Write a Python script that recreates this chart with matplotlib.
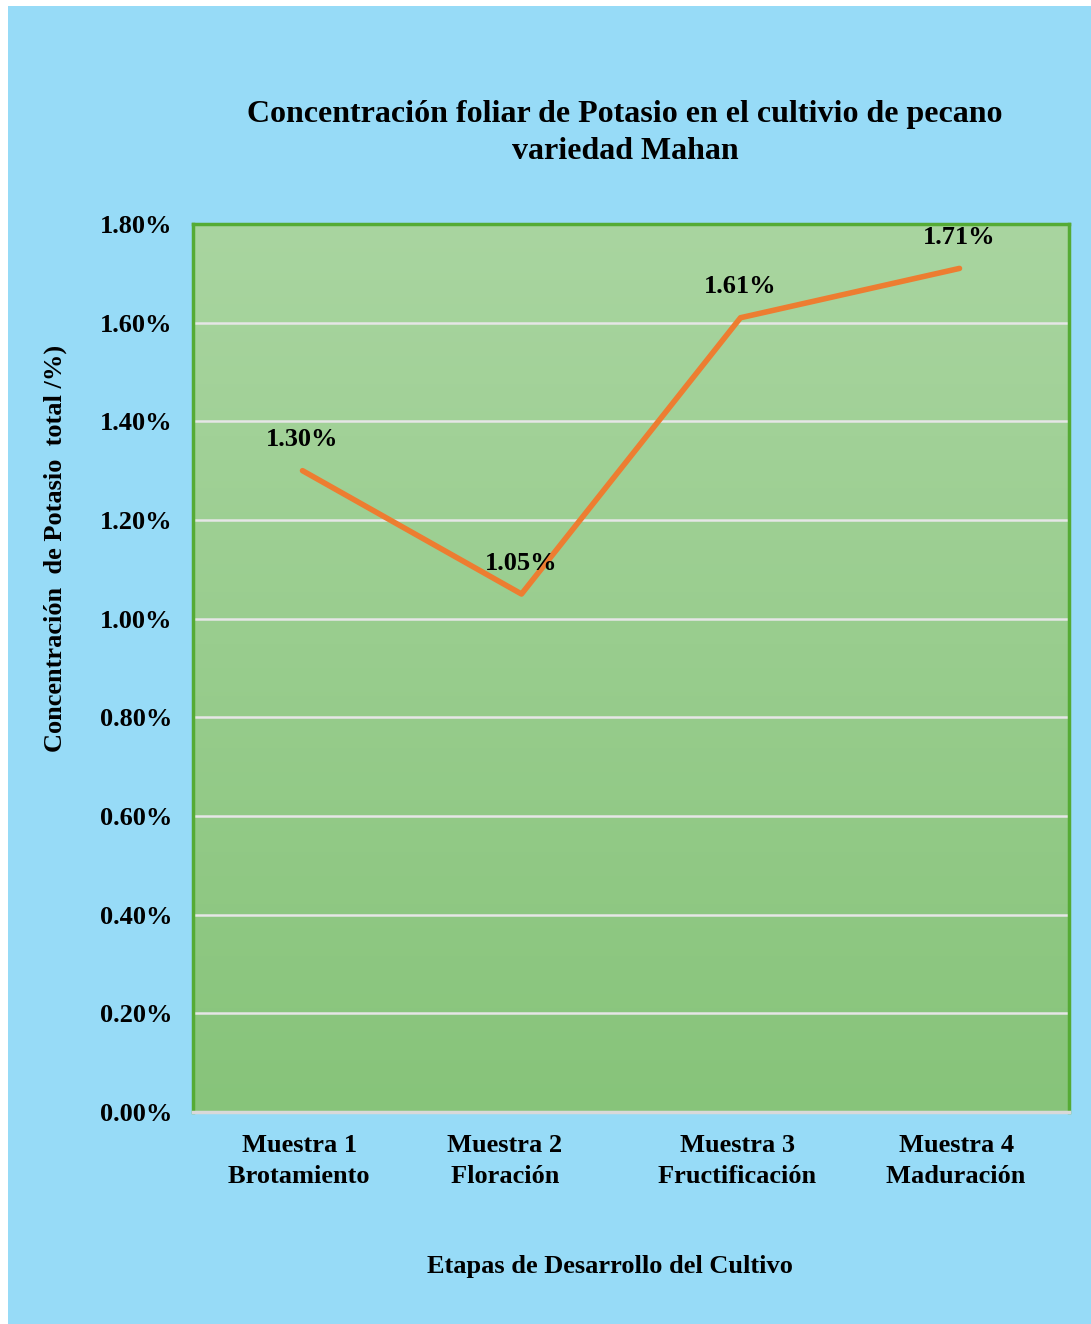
import numpy as np
import matplotlib.pyplot as plt
from matplotlib.patches import Rectangle
from matplotlib.colors import LinearSegmentedColormap

plt.rcParams['font.family'] = 'Liberation Serif'
plt.rcParams['font.weight'] = 'bold'

etapas = ['Muestra 1 \nBrotamiento ', 'Muestra 2     \nFloración     ',
          'Muestra 3 \nFructificación ', 'Muestra 4 \nMaduración ']
potasio = [1.30, 1.05, 1.61, 1.71]
yticks = [0.0, 0.2, 0.4, 0.6, 0.8, 1.0, 1.2, 1.4, 1.6, 1.8]

W, H = 1091, 1324
fig = plt.figure(figsize=(W / 100, H / 100), dpi=100)
fig.patch.set_facecolor('white')
fig.patches.append(Rectangle((8 / W, 0), 1 - 8 / W, 1 - 6 / H, transform=fig.transFigure,
                             facecolor='#97dbf7', edgecolor='none', zorder=-10))

ax = fig.add_axes([193 / W, 1 - 1112 / H, (1069 - 193) / W, (1112 - 224) / H])
ax.set_xlim(-0.5, 3.5)
ax.set_ylim(0, 1.8)

# vertical green gradient in the plot area
cmap = LinearSegmentedColormap.from_list('verde', ['#87c47a', '#a9d5a0'])
grad = np.linspace(0, 1, 256).reshape(-1, 1)
ax.imshow(grad, cmap=cmap, aspect='auto', origin='lower',
          extent=(-0.5, 3.5, 0, 1.8), zorder=0)

for y in yticks[1:-1]:
    ax.axhline(y, color='#e6e6e6', lw=1.8, zorder=1)

x = np.arange(len(etapas))
ax.plot(x, potasio, color='#ed7d31', lw=4, solid_capstyle='round', zorder=3)
for xi, v in zip(x, potasio):
    ax.annotate(f'{v:.2f}%', (xi, v), xytext=(0, 14), textcoords='offset points',
                ha='center', va='bottom', fontsize=19, fontweight='bold', zorder=4)

for side in ['left', 'top', 'right']:
    ax.spines[side].set_color('#55ab35')
    ax.spines[side].set_linewidth(2.5)
ax.spines['bottom'].set_color('#d9d9d9')
ax.spines['bottom'].set_linewidth(2.5)

ax.set_yticks(yticks)
ax.set_yticklabels([f'{v:.2f}%' for v in yticks], fontsize=19, fontweight='bold')
ax.set_xticks(x)
ax.set_xticklabels(etapas, fontsize=19, fontweight='bold', linespacing=1.42)
ax.tick_params(axis='both', length=0)
ax.tick_params(axis='y', pad=15)
ax.tick_params(axis='x', pad=16)

fig.text(625 / W, 1 - 133 / H,
         'Concentración foliar de Potasio en el cultivio de pecano\nvariedad Mahan',
         ha='center', va='center', fontsize=23, fontweight='bold', linespacing=1.35)
fig.text(55 / W, 1 - 548 / H, 'Concentración  de Potasio  total /%)', rotation=90,
         ha='center', va='center', fontsize=19, fontweight='bold')
fig.text(610 / W, 1 - 1267 / H, 'Etapas de Desarrollo del Cultivo',
         ha='center', va='center', fontsize=19, fontweight='bold')

fig.savefig('out.png', dpi=100)
